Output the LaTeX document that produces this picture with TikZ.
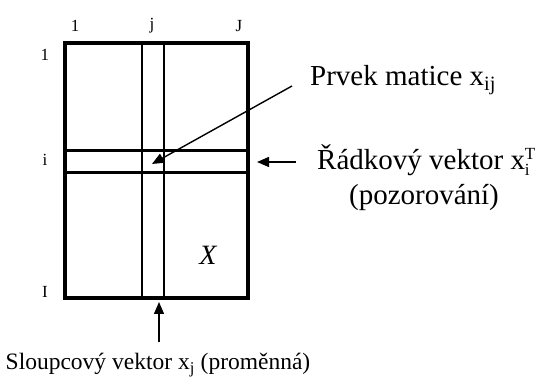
\documentclass[tikz,border=0pt]{standalone}
\usepackage{fontspec}
\setmainfont{Liberation Serif}
\usetikzlibrary{arrows.meta}
\newcommand{\mysupsub}[2]{{\fontsize{17}{17}\selectfont\rlap{\raisebox{10.5pt}{#1}}\raisebox{-6pt}{#2}}}
\begin{document}
\begin{tikzpicture}[x=1pt,y=-1pt,
  big/.style={font=\fontsize{29}{33}\selectfont, inner sep=0pt},
  bot/.style={font=\fontsize{23.5}{27}\selectfont, inner sep=0pt},
  idx/.style={font=\fontsize{17}{20}\selectfont, inner sep=0pt},
  arr/.style={line width=1.4pt, -{Triangle[length=12pt,width=10pt]}},
  border/.style={line width=4pt},
  rowline/.style={line width=3pt},
  colline/.style={line width=1.6pt}]
\useasboundingbox (0,0) rectangle (542,379);
% matrix
\draw[colline] (142,43) -- (142,298);
\draw[colline] (164,43) -- (164,298);
\draw[rowline] (65,151) -- (248,151);
\draw[rowline] (65,173) -- (248,173);
\draw[border] (65,43) rectangle (248,298);
\coordinate (elem) at (152,164);
\coordinate (rowtip) at (257,162);
\coordinate (coltip) at (159,302);
% index labels
\node[idx] (c1) at (75,26) {1};
\node[idx] (cj) at (152,26) {j};
\node[idx] (cJ) at (239,26) {J};
\node[idx] (r1) at (45,55) {1};
\node[idx] (ri) at (45,160) {i};
\node[idx] (rI) at (45,292) {I};
\node[font=\fontsize{28}{32}\selectfont\itshape, inner sep=0pt] (X) at (208,255) {X};
% texts
\node[big, anchor=base west] (prvek) at (310,86) {Prvek matice x\textsubscript{ij}};
\node[big, anchor=base west] (radek) at (317,170) {Řádkový vektor x\mysupsub{T}{i}};
\node[big, anchor=base] (poz) at (424,205) {(pozorování)};
\node[bot, anchor=base] (sloup) at (158,370) {Sloupcový vektor x\textsubscript{j} (proměnná)};
% arrows
\coordinate (prvektail) at (292,86);
\coordinate (rowtail) at (296,162);
\coordinate (coltail) at (159,342);
\draw[arr] (prvektail) -- (elem);
\draw[arr] (rowtail) -- (rowtip);
\draw[arr] (coltail) -- (coltip);
\end{tikzpicture}
\end{document}
